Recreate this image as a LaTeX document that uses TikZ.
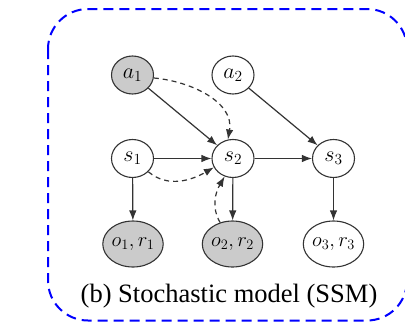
\RequirePackage{fix-cm}
\documentclass[tikz,border=0pt]{standalone}
\usepackage[no-math]{fontspec}
\setmainfont{Liberation Serif}
\usetikzlibrary{arrows.meta,shapes.geometric}

\definecolor{edgegray}{HTML}{333333}
\definecolor{obsfill}{HTML}{CBCBCB}

\tikzset{
  var/.style={ellipse, draw=edgegray, line width=1.1pt, fill=white,
    minimum width=42pt, minimum height=38pt, inner sep=0pt,
    font=\fontsize{22}{26}\selectfont},
  obsvar/.style={var, fill=obsfill},
  pairvar/.style={var, minimum width=53pt, minimum height=46pt,
    font=\fontsize{20.5}{24}\selectfont},
  link/.style={draw=edgegray, line width=1.2pt,
    -{Latex[length=10pt,width=7.5pt]}},
  dlink/.style={link, dash pattern=on 5pt off 4pt},
  frame/.style={draw=blue, line width=2pt, dash pattern=on 10pt off 6pt,
    rounded corners=40pt}
}

\begin{document}
\begin{tikzpicture}[x=1pt,y=-1pt]
  \useasboundingbox (0,0) rectangle (405,322);
  \fill[white] (0,0) rectangle (405,322);

  % outer dashed frame
  \draw[frame] (48,9) rectangle (407,320.5);

  % variables
  \node[var,obsvar] (a1) at (132.5,75) {$a_1$};
  \node[var] (a2) at (233,75) {$a_2$};
  \node[var] (s1) at (132.5,158.5) {$s_1$};
  \node[var] (s2) at (233,158.5) {$s_2$};
  \node[var] (s3) at (333.5,158.5) {$s_3$};
  \node[pairvar,fill=obsfill] (o1) at (133,244) {$o_1,r_1$};
  \node[pairvar,fill=obsfill] (o2) at (232.5,244) {$o_2,r_2$};
  \node[pairvar] (o3) at (333.5,244) {$o_3,r_3$};

  % solid dependencies
  \draw[link] (a1) -- (s2);
  \draw[link] (a2) -- (s3);
  \draw[link] (s1) -- (s2);
  \draw[link] (s2) -- (s3);
  \draw[link] (s1) -- (o1);
  \draw[link] (s2) -- (o2);
  \draw[link] (s3) -- (o3);

  % dashed dependencies
  \draw[dlink] (a1.-8) to[out=-5,in=80] (s2.105);
  \draw[dlink] (s1.-40) to[out=-40,in=-150] (s2.-155);
  \draw[dlink] (o2.120) to[out=120,in=-120] (s2.-115);

  % caption
  \node[font=\fontsize{26.5}{30}\selectfont, anchor=base] (cap) at (229,302)
    {(b) Stochastic model (SSM)};
\end{tikzpicture}
\end{document}
